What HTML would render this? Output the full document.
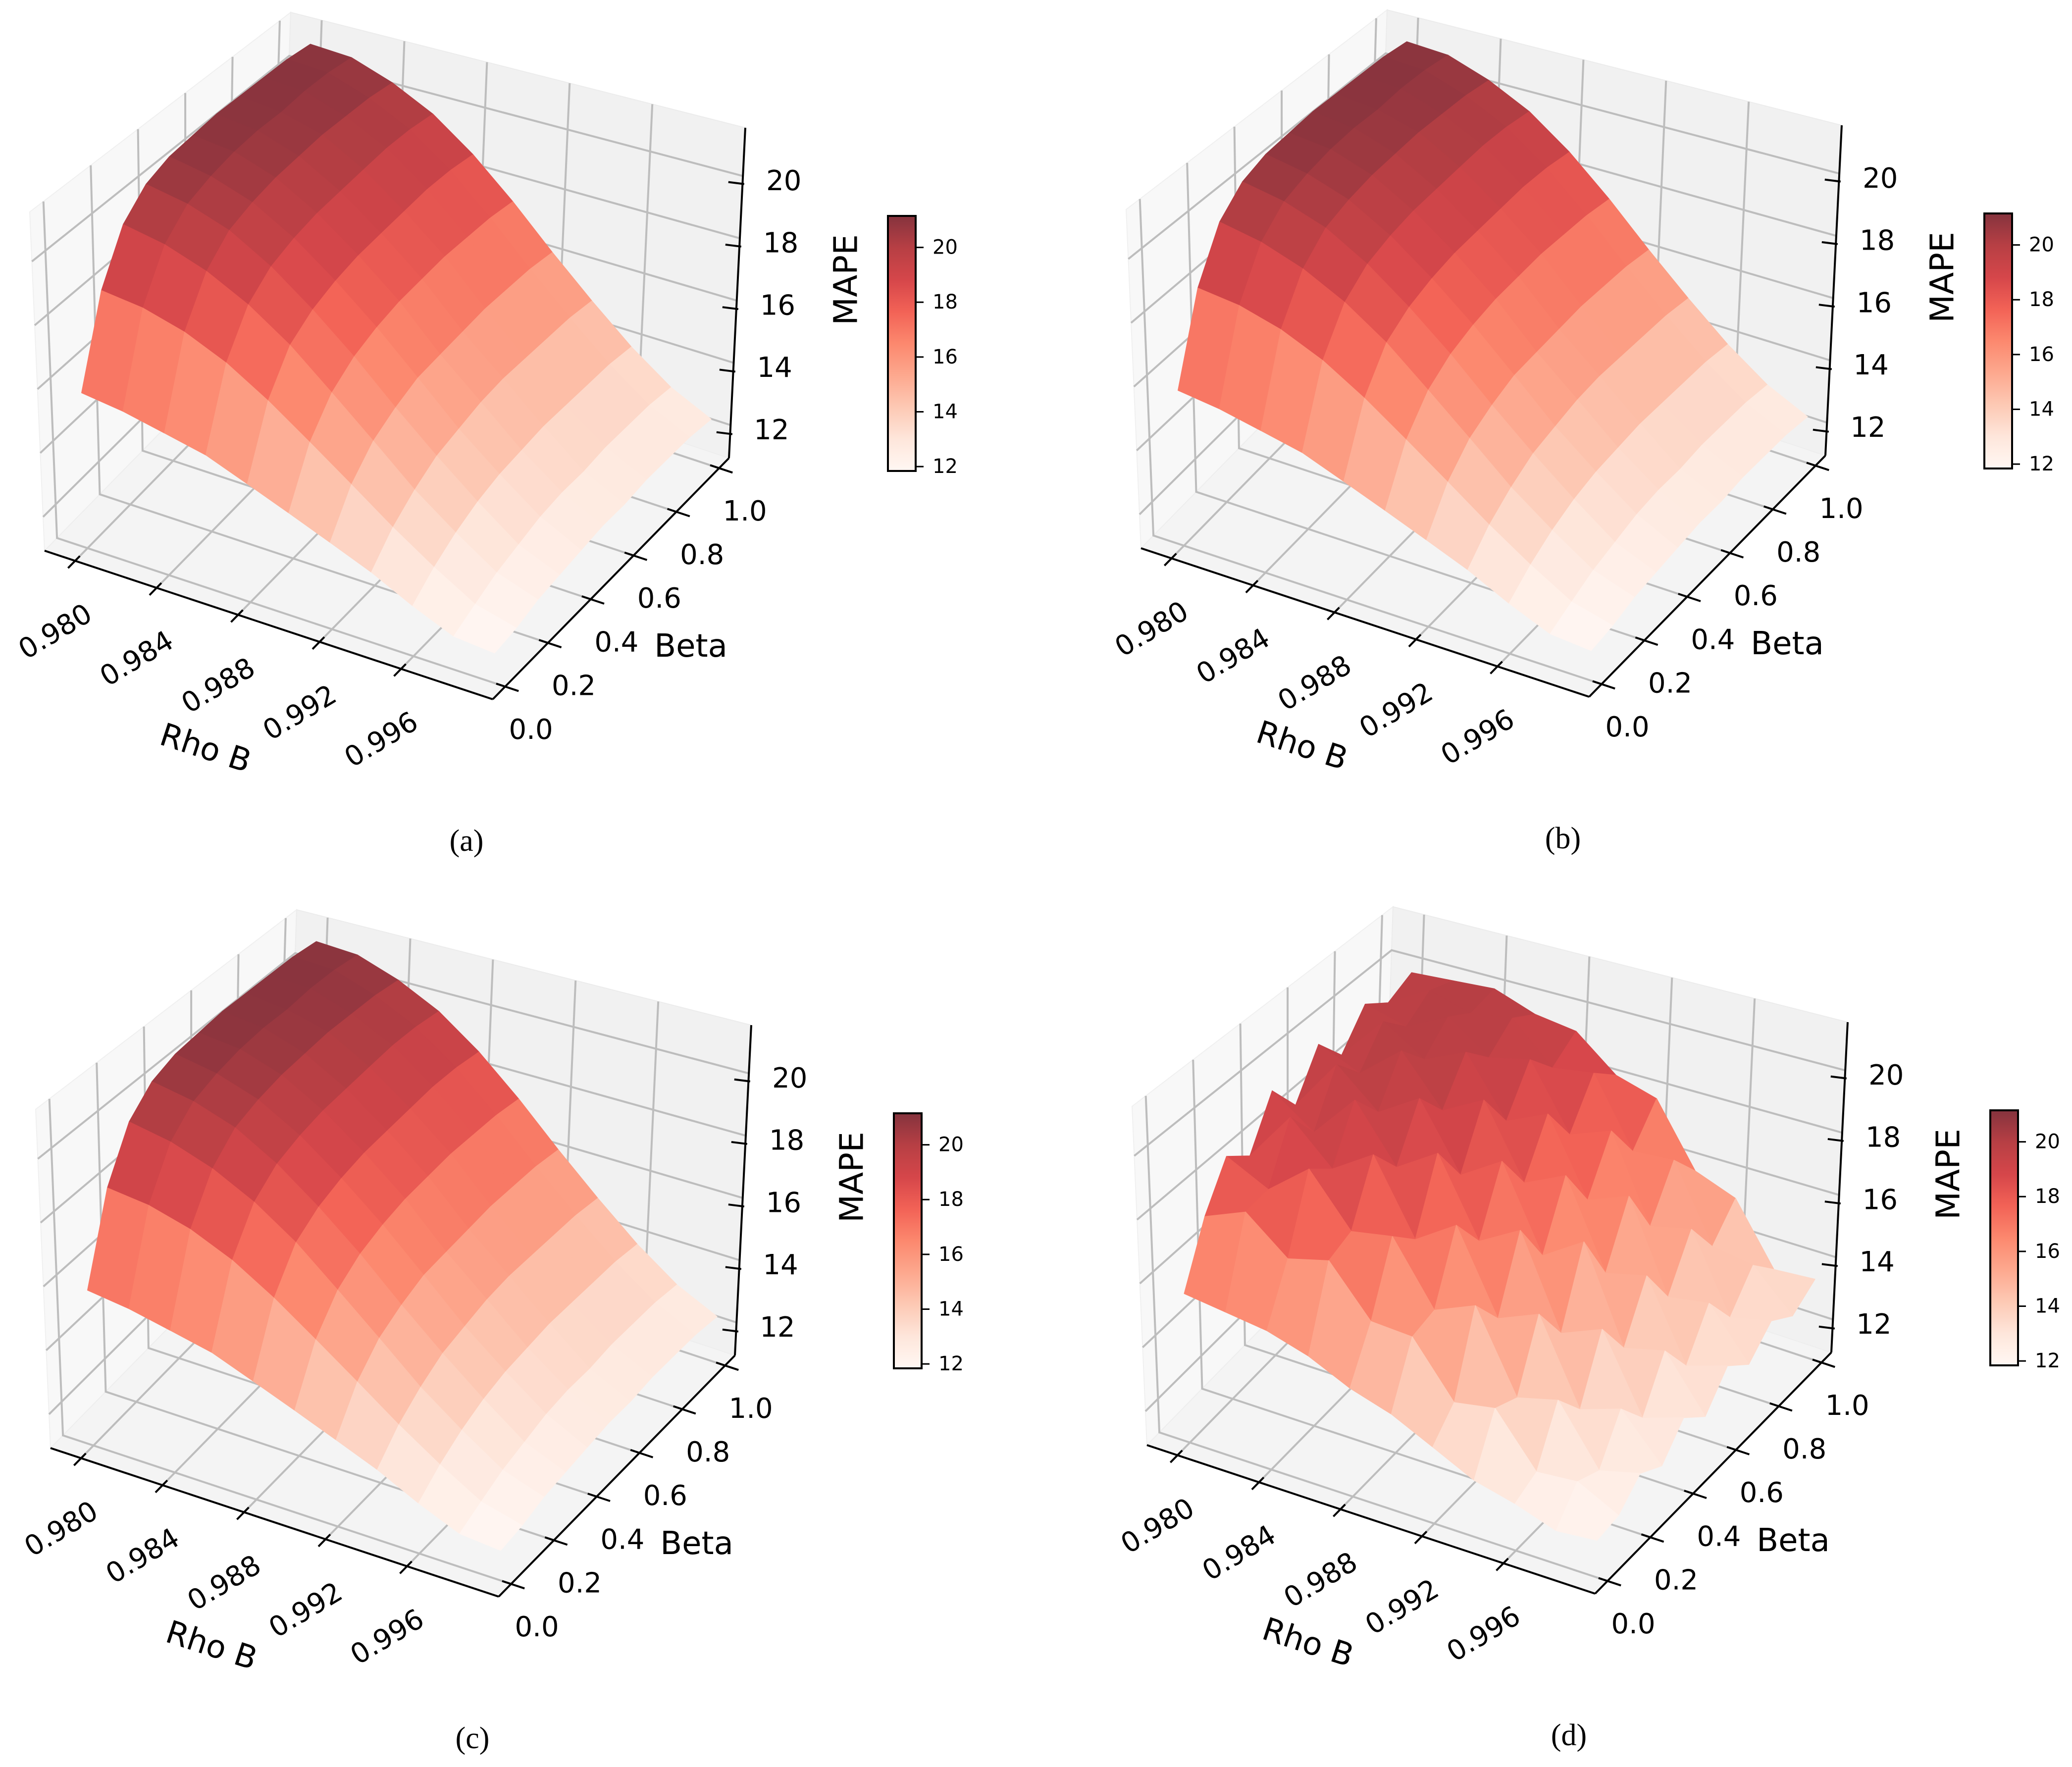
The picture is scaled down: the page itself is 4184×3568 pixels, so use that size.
<!DOCTYPE html>
<html><head><meta charset="utf-8"><style>
html,body{margin:0;padding:0;background:#fff}
svg{display:block}
text{font-family:"DejaVu Sans","Liberation Sans",sans-serif;fill:#000}
.cap{font-family:"Liberation Serif",serif}
</style></head><body>
<svg id="fig" xmlns="http://www.w3.org/2000/svg" width="4184" height="3568" viewBox="0 0 4184 3568"></svg>
<script>
const rhoVals=[0.980,0.982,0.984,0.986,0.988,0.990,0.992,0.994,0.996,0.998,1.000];
const betaVals=[0.0,0.1,0.2,0.3,0.4,0.5,0.6,0.7,0.8,0.9,1.0];
const zA=[
[15.8,15.6,15.3,15.0,14.5,14.0,13.5,13.0,12.4,11.9,11.8],
[18.4,18.2,17.8,17.2,16.4,15.5,14.6,13.7,12.9,12.2,11.9],
[19.9,19.6,19.1,18.4,17.5,16.4,15.3,14.2,13.3,12.5,12.1],
[20.6,20.3,19.8,19.0,18.0,16.9,15.7,14.6,13.6,12.7,12.2],
[20.9,20.6,20.1,19.3,18.3,17.2,16.0,14.8,13.8,12.9,12.3],
[21.0,20.8,20.3,19.5,18.5,17.4,16.1,15.0,13.9,13.0,12.4],
[21.1,20.9,20.4,19.6,18.6,17.5,16.2,15.1,14.0,13.0,12.4],
[21.1,20.9,20.5,19.7,18.7,17.6,16.3,15.1,14.0,13.1,12.5],
[21.1,21.0,20.5,19.8,18.8,17.6,16.3,15.1,14.0,13.1,12.5],
[21.1,21.0,20.5,19.8,18.8,17.6,16.3,15.1,14.0,13.1,12.5],
[21.0,20.9,20.4,19.7,18.7,17.5,16.2,15.0,13.9,13.0,12.4]];
const zD=[
[15.6,15.4,15.2,14.8,14.2,13.8,13.2,12.6,12.3,11.9,12.0],
[17.4,17.9,16.8,17.1,15.6,15.5,13.9,14.1,12.6,12.7,12.1],
[18.7,18.0,19.0,17.4,17.6,15.7,16.2,13.8,14.1,12.4,12.7],
[18.1,19.7,18.4,19.2,16.9,17.7,15.2,15.7,13.2,13.6,12.3],
[19.6,18.6,20.0,18.2,19.0,16.6,17.3,14.5,15.0,12.7,13.1],
[18.5,20.2,19.0,19.8,17.7,18.5,15.9,16.7,13.8,14.1,12.5],
[19.9,19.3,20.4,18.8,19.5,17.2,17.8,15.1,15.4,13.0,13.4],
[18.9,20.4,19.5,20.1,18.2,18.8,16.4,16.9,14.1,14.3,12.8],
[20.0,19.6,20.3,19.3,19.6,17.5,18.0,15.3,15.6,13.2,13.5],
[19.4,20.2,19.8,20.0,18.7,18.9,16.7,16.8,14.4,14.2,13.0],
[19.8,19.9,20.0,19.5,19.3,18.2,17.8,15.8,15.3,13.4,13.5]];
const rhoTicks=[0.980,0.984,0.988,0.992,0.996];
const rhoTickLabels=["0.980","0.984","0.988","0.992","0.996"];
const betaTicks=[0.0,0.2,0.4,0.6,0.8,1.0];
const betaTickLabels=["0.0","0.2","0.4","0.6","0.8","1.0"];
const zTicks=[12,14,16,18,20];
const zTickLabels=["12","14","16","18","20"];
const cbTicks=[12,14,16,18,20];
const cbTickLabels=["12","14","16","18","20"];

const NS="http://www.w3.org/2000/svg";
const svg=document.getElementById('fig');
const RHO0=0.9785,RHO1=1.0005,B0=-0.058,B1=1.046,Z0=10.94,Z1=21.55,VMIN=11.84,VMAX=21.15;
const L=[90,1112],F=[995,1412],R=[1472,925],B=[567,625];
const VL=[-30,-684],VF=[-10,-760],VR=[33,-667],VB=[20,-600];
const reds=[[255,245,240],[254,224,210],[252,187,161],[252,146,114],[251,106,74],[239,59,44],[203,24,29],[165,15,21],[103,0,13]];
function cmap(v){let t=(v-VMIN)/(VMAX-VMIN);t=Math.max(0,Math.min(1,t))*8;let i=Math.min(7,Math.floor(t)),f=t-i;
 const c=reds[i].map((a,k)=>a+(reds[i+1][k]-a)*f).map(a=>Math.round(0.8*a+0.2*255));return `rgb(${c[0]},${c[1]},${c[2]})`;}
function bil(A,Bq,C,D,r,b){return [0,1].map(k=>(1-r)*(1-b)*A[k]+r*(1-b)*Bq[k]+r*b*C[k]+(1-r)*b*D[k]);}
function projN(r,b,zn,o){const P=bil(L,F,R,B,r,b),V=bil(VL,VF,VR,VB,r,b);return [P[0]+zn*V[0]+o[0],P[1]+zn*V[1]+o[1]];}
function xs(rho){return (rho-RHO0)/(RHO1-RHO0);}
function ys(beta){return (beta-B0)/(B1-B0);}
function zs(z){return (z-Z0)/(Z1-Z0);}
function proj(rho,beta,z,o){return projN(xs(rho),ys(beta),zs(z),o);}
function mk(tag,attrs,parent){const e=document.createElementNS(NS,tag);for(const k in attrs)e.setAttribute(k,attrs[k]);(parent||svg).appendChild(e);return e;}
function pts(a){return a.map(p=>p[0].toFixed(1)+','+p[1].toFixed(1)).join(' ');}

function panel(o,Z,letter){
 const g=mk('g',{});
 
 
 const left=mk('polygon',{points:pts([projN(0,0,0,o),projN(0,1,0,o),projN(0,1,1,o),projN(0,0,1,o)]),fill:'#f8f8f8',stroke:'#f0f0f0','stroke-width':2},g);
 
 
 const back=mk('polygon',{points:pts([projN(0,1,0,o),projN(1,1,0,o),projN(1,1,1,o),projN(0,1,1,o)]),fill:'#f1f1f1',stroke:'#ececec','stroke-width':2},g);
 
 
 const floor=mk('polygon',{points:pts([projN(0,0,0,o),projN(1,0,0,o),projN(1,1,0,o),projN(0,1,0,o)]),fill:'#f4f4f4',stroke:'#eeeeee','stroke-width':2},g);
 
 
 const gs={stroke:'#bdbdbd','stroke-width':4,fill:'none'};
 rhoTicks.forEach(t=>{const r=xs(t);
  const a=mk('polyline',Object.assign({points:pts([projN(r,0,0,o),projN(r,1,0,o),projN(r,1,1,o)])},gs),g);
  
  });
 betaTicks.forEach(t=>{const b=ys(t);
  const a=mk('polyline',Object.assign({points:pts([projN(1,b,0,o),projN(0,b,0,o),projN(0,b,1,o)])},gs),g);
  
  });
 zTicks.forEach(t=>{const zn=zs(t);
  const a=mk('polyline',Object.assign({points:pts([projN(0,0,zn,o),projN(0,1,zn,o),projN(1,1,zn,o)])},gs),g);
  
  });
 const quads=[];
 for(let i=0;i<betaVals.length-1;i++)for(let j=0;j<rhoVals.length-1;j++){
  const c=[[j,i],[j+1,i],[j+1,i+1],[j,i+1]];
  const p=c.map(([jj,ii])=>proj(rhoVals[jj],betaVals[ii],Z[ii][jj],o));
  const zm=c.reduce((s,[jj,ii])=>s+Z[ii][jj],0)/4;
  const fc=proj((rhoVals[j]+rhoVals[j+1])/2,(betaVals[i]+betaVals[i+1])/2,Z0,o);
  quads.push({p,zm,d:fc[1]});
 }
 quads.sort((a,b)=>a.d-b.d);
 const sg=mk('g',{},g);
 
 
 quads.forEach(q=>{const col=cmap(q.zm);
  const e=mk('polygon',{points:pts(q.p),fill:col,stroke:col,'stroke-width':1.5,'stroke-linejoin':'round'},sg);
  
  });
 const ax={stroke:'#000','stroke-width':4,fill:'none'};
 const xa=mk('line',Object.assign({x1:projN(0,0,0,o)[0],y1:projN(0,0,0,o)[1],x2:projN(1,0,0,o)[0],y2:projN(1,0,0,o)[1]},ax),g);
 
 
 const ya=mk('line',Object.assign({x1:projN(1,0,0,o)[0],y1:projN(1,0,0,o)[1],x2:projN(1,1,0,o)[0],y2:projN(1,1,0,o)[1]},ax),g);
 
 
 const za=mk('line',Object.assign({x1:projN(1,1,0,o)[0],y1:projN(1,1,0,o)[1],x2:projN(1,1,1,o)[0],y2:projN(1,1,1,o)[1]},ax),g);
 
 
 rhoTicks.forEach((t,k)=>{const r=xs(t);const a=projN(r,0.02,0,o),b=projN(r,-0.03,0,o);
  const tk=mk('line',Object.assign({x1:a[0],y1:a[1],x2:b[0],y2:b[1]},ax),g);
  
  
  const p=projN(r,0,0,o);
  const tx=mk('text',{x:p[0]-40,y:p[1]+143,'font-size':56,'text-anchor':'middle','dominant-baseline':'central',transform:`rotate(-31 ${p[0]-40} ${p[1]+143})`},g);
  tx.textContent=rhoTickLabels[k];
  
  });
 betaTicks.forEach((t,k)=>{const b=ys(t);const a=projN(0.98,b,0,o),c=projN(1.03,b,0,o);
  const tk=mk('line',Object.assign({x1:a[0],y1:a[1],x2:c[0],y2:c[1]},ax),g);
  
  
  const p=projN(1,b,0,o);
  const tx=mk('text',{x:p[0]+52,y:p[1]+87,'font-size':56,'text-anchor':'middle','dominant-baseline':'central'},g);
  tx.textContent=betaTickLabels[k];
  
  });
 zTicks.forEach((t,k)=>{const zn=zs(t);const a=projN(1,0.97,zn,o);
  const tk=mk('line',{x1:a[0]-14,y1:a[1],x2:a[0]+18,y2:a[1]+4,stroke:'#000','stroke-width':4},g);
  
  
  const p=projN(1,1,zn,o);
  const tx=mk('text',{x:p[0]+47,y:p[1]+10,'font-size':56,'text-anchor':'start','dominant-baseline':'central'},g);
  tx.textContent=zTickLabels[k];
  
  });
 const xl=mk('text',{x:415+o[0],y:1511+o[1],'font-size':64,'text-anchor':'middle','dominant-baseline':'central',transform:`rotate(18 ${415+o[0]} ${1511+o[1]})`},g);
 xl.textContent='Rho B';
 
 
 const yl=mk('text',{x:1395+o[0],y:1305+o[1],'font-size':64,'text-anchor':'middle','dominant-baseline':'central'},g);
 yl.textContent='Beta';
 
 
 const zl=mk('text',{x:1708+o[0],y:565+o[1],'font-size':66,'text-anchor':'middle','dominant-baseline':'central',transform:`rotate(-90 ${1708+o[0]} ${565+o[1]})`},g);
 zl.textContent='MAPE';
 
 
 const gid='grad'+letter;
 const defs=mk('defs',{},g);
 const lg=mk('linearGradient',{id:gid,x1:0,y1:1,x2:0,y2:0},defs);
 for(let k=0;k<=16;k++){const v=VMIN+(VMAX-VMIN)*k/16;mk('stop',{offset:(k/16).toFixed(3),'stop-color':cmap(v)},lg);}
 const cx0=1793+o[0],cy0=436+o[1],cw=56,ch=515;
 const cb=mk('rect',{x:cx0,y:cy0,width:cw,height:ch,fill:`url(#${gid})`,stroke:'#000','stroke-width':4},g);
 
 
 cbTicks.forEach((t,k)=>{const y=cy0+ch-(t-VMIN)/(VMAX-VMIN)*ch;
  const tk=mk('line',{x1:cx0+cw,y1:y,x2:cx0+cw+16,y2:y,stroke:'#000','stroke-width':3},g);
  
  
  const tx=mk('text',{x:cx0+cw+34,y:y,'font-size':40,'dominant-baseline':'central'},g);
  tx.textContent=cbTickLabels[k];
  
  });
 const cap=mk('text',{x:942+o[0],y:1698+o[1],'font-size':62,'text-anchor':'middle','dominant-baseline':'central','class':'cap'},g);
 cap.textContent='('+letter+')';
 
 
}
panel([0,0],zA,'a');
panel([2214,-5],zA,'b');
panel([12,1812],zA,'c');
panel([2226,1806],zD,'d');
</script>
</body></html>
